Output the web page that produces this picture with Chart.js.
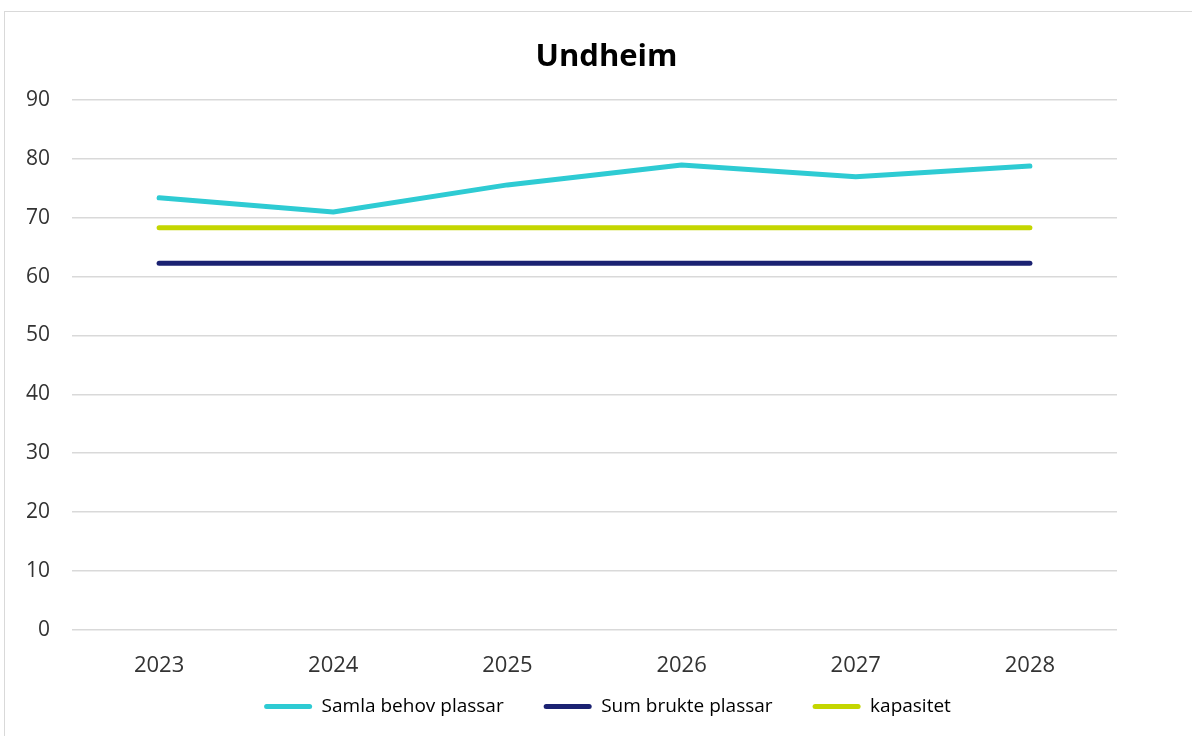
<!DOCTYPE html>
<html>
<head>
<meta charset="utf-8">
<script src="https://cdn.jsdelivr.net/npm/chart.js@4/dist/chart.umd.min.js"></script>
<style>
    html, body { margin: 0; padding: 0; background: #fff; overflow: hidden; }
    #frame {
        position: absolute;
        left: 4px; top: 11px;
        width: 1204px; height: 740px;
        border: 1px solid #d9d9d9;
        box-sizing: border-box;
    }
    #wrap {
        position: absolute;
        left: 4px; top: 0;
        width: 1204px; height: 736px;
    }
</style>
</head>
<body>
<div id="frame"></div>
<div id="wrap"><canvas id="chartCanvas"></canvas></div>
<script>
    // ===== DATA =====
    const years = ['2023', '2024', '2025', '2026', '2027', '2028'];
    const samlaBehov = [73.4, 71.0, 75.6, 79.0, 77.0, 78.8];
    const sumBrukte = [62.3, 62.3, 62.3, 62.3, 62.3, 62.3];
    const kapasitet = [68.3, 68.3, 68.3, 68.3, 68.3, 68.3];
    const yTicks = [0, 10, 20, 30, 40, 50, 60, 70, 80, 90];

    const fontFamily = '"Open Sans", "DejaVu Sans", sans-serif';
    const LEGEND_SHIFT = 45;

    function makeSeries(label, data, color) {
        return {
            label: label,
            data: data,
            borderColor: color,
            backgroundColor: color,
            borderWidth: 5,
            borderCapStyle: 'round',
            borderJoinStyle: 'round',
            pointRadius: 0,
            tension: 0,
            fill: false
        };
    }

    // title and legend are centred on the whole chart box, not the padded area;
    // legend also sits closer to the axis labels
    const boxShift = {
        id: 'boxShift',
        afterLayout(chart) {
            if (chart.titleBlock) {
                chart.titleBlock.left += 46;
                chart.titleBlock.right += 46;
            }
            if (chart.legend) {
                chart.legend.left += 47;
                chart.legend.right += 47;
                chart.legend.top -= LEGEND_SHIFT;
                chart.legend.bottom -= LEGEND_SHIFT;
            }
        }
    };

    new Chart(document.getElementById('chartCanvas'), {
        type: 'line',
        data: {
            labels: years,
            datasets: [
                makeSeries('Samla behov plassar', samlaBehov, '#2ecbd3'),
                makeSeries('Sum brukte plassar', sumBrukte, '#1b2272'),
                makeSeries('kapasitet', kapasitet, '#c4d600')
            ]
        },
        plugins: [boxShift],
        options: {
            responsive: true,
            maintainAspectRatio: false,
            animation: false,
            layout: {
                padding: { left: 0, right: 91, top: 39, bottom: -35 }
            },
            plugins: {
                title: {
                    display: true,
                    text: 'Undheim',
                    color: '#000',
                    font: { family: fontFamily, size: 31, weight: 'bold' },
                    padding: { top: 0, bottom: 24 }
                },
                legend: {
                    position: 'bottom',
                    labels: {
                        color: '#333',
                        font: { family: fontFamily, size: 19 },
                        boxWidth: 48,
                        boxHeight: 5,
                        padding: 40,
                        generateLabels: function(chart) {
                            return chart.data.datasets.map((ds, i) => ({
                                text: ds.label,
                                fillStyle: ds.borderColor,
                                strokeStyle: ds.borderColor,
                                lineWidth: 0,
                                borderRadius: 2.5,
                                datasetIndex: i,
                                hidden: false
                            }));
                        }
                    }
                },
                tooltip: { enabled: false }
            },
            scales: {
                x: {
                    offset: true,
                    grid: { display: false, drawTicks: false },
                    border: { display: false },
                    ticks: {
                        color: '#333',
                        font: { family: fontFamily, size: 22 },
                        padding: 23
                    }
                },
                y: {
                    min: 0,
                    max: 90,
                    afterBuildTicks: function(axis) {
                        axis.ticks = yTicks.map(v => ({ value: v }));
                    },
                    grid: { color: '#d9d9d9', lineWidth: 1.5, drawTicks: false },
                    border: { display: false },
                    ticks: {
                        color: '#333',
                        font: { family: fontFamily, size: 21 },
                        padding: 22
                    }
                }
            }
        }
    });
</script>
</body>
</html>
